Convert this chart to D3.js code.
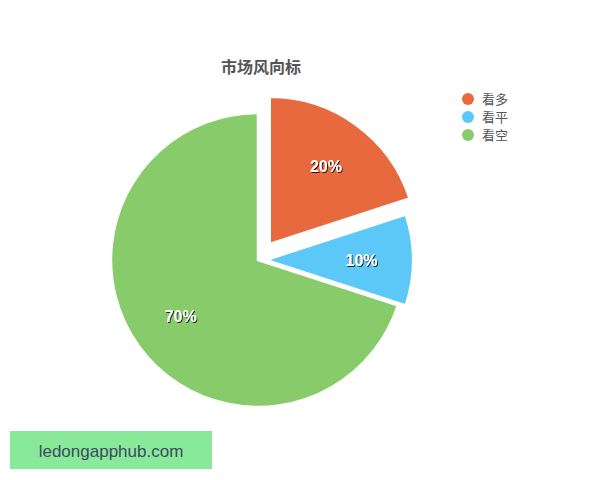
<!DOCTYPE html>
<html>
<head>
<meta charset="utf-8">
<script src="https://cdn.jsdelivr.net/npm/d3@7"></script>
<style>
html,body{margin:0;padding:0;background:#fff;}
svg{display:block;}
</style>
</head>
<body>
<svg id="chart" width="600" height="480"></svg>
<script>
const title = "市场风向标";
const categories = ["看多", "看平", "看空"];
const values = [20, 10, 70];
const colors = ["#E8693E", "#5CC8F8", "#88CB6A"];
const sliceOffsets = [20, 8, 0];
const watermark = "ledongapphub.com";

const W = 600, H = 480;
const cx = 258, cy = 260, R = 147;
const svg = d3.select("#chart");

const defs = svg.append("defs");
const f = defs.append("filter").attr("id","ts").attr("x","-20%").attr("y","-20%").attr("width","140%").attr("height","140%");
f.append("feDropShadow").attr("dx",1).attr("dy",1).attr("stdDeviation",0.7).attr("flood-color","#000").attr("flood-opacity",0.8);

const total = d3.sum(values);
const pie = d3.pie().sort(null).value(d => d.v);
const arcs = pie(categories.map((c,i)=>({c, v: values[i], i})));
const arc = d3.arc().innerRadius(0).outerRadius(R);
const labelArc = d3.arc().innerRadius(R*0.65).outerRadius(R*0.65);

const g = svg.append("g").attr("transform", `translate(${cx},${cy})`);
const slices = g.selectAll("g.slice").data(arcs).enter().append("g")
  .attr("class","slice")
  .attr("transform", d => {
    const a = (d.startAngle + d.endAngle)/2;
    const o = sliceOffsets[d.data.i];
    return `translate(${Math.sin(a)*o},${-Math.cos(a)*o})`;
  });
slices.append("path")
  .attr("d", arc)
  .attr("fill", d => colors[d.data.i])
  .attr("stroke", "#fff")
  .attr("stroke-width", 2.5)
  .attr("stroke-linejoin","round");
slices.append("text")
  .attr("transform", d => `translate(${labelArc.centroid(d)})`)
  .attr("text-anchor","middle")
  .attr("dy","0.36em")
  .attr("font-family","'Liberation Sans', Arial, sans-serif")
  .attr("font-weight","bold")
  .attr("font-size", 16)
  .attr("fill","#fff")
  .attr("filter","url(#ts)")
  .text(d => Math.round(d.data.v/total*100) + "%");

svg.append("text")
  .attr("x", 261).attr("y", 73)
  .attr("text-anchor","middle")
  .attr("font-family","'Noto Sans CJK SC', sans-serif")
  .attr("font-weight","bold")
  .attr("font-size", 16)
  .attr("fill","#555")
  .text(title);

const legend = svg.append("g").attr("transform","translate(468,99)");
const li = legend.selectAll("g").data(categories).enter().append("g")
  .attr("transform",(d,i)=>`translate(0,${i*18})`);
li.append("circle").attr("r",6).attr("fill",(d,i)=>colors[i]);
li.append("text").attr("x",14).attr("dy","0.36em")
  .attr("font-family","'Noto Sans CJK SC', sans-serif")
  .attr("font-size",13).attr("fill","#555").text(d=>d);

svg.append("rect").attr("x",10).attr("y",431).attr("width",202).attr("height",38).attr("fill","#88E99A");
svg.append("text").attr("x",111).attr("y",451).attr("dy","0.36em")
  .attr("text-anchor","middle")
  .attr("font-family","'Liberation Sans', Arial, sans-serif")
  .attr("font-size",17).attr("fill","#3E4A5E").text(watermark);
</script>
</body>
</html>
